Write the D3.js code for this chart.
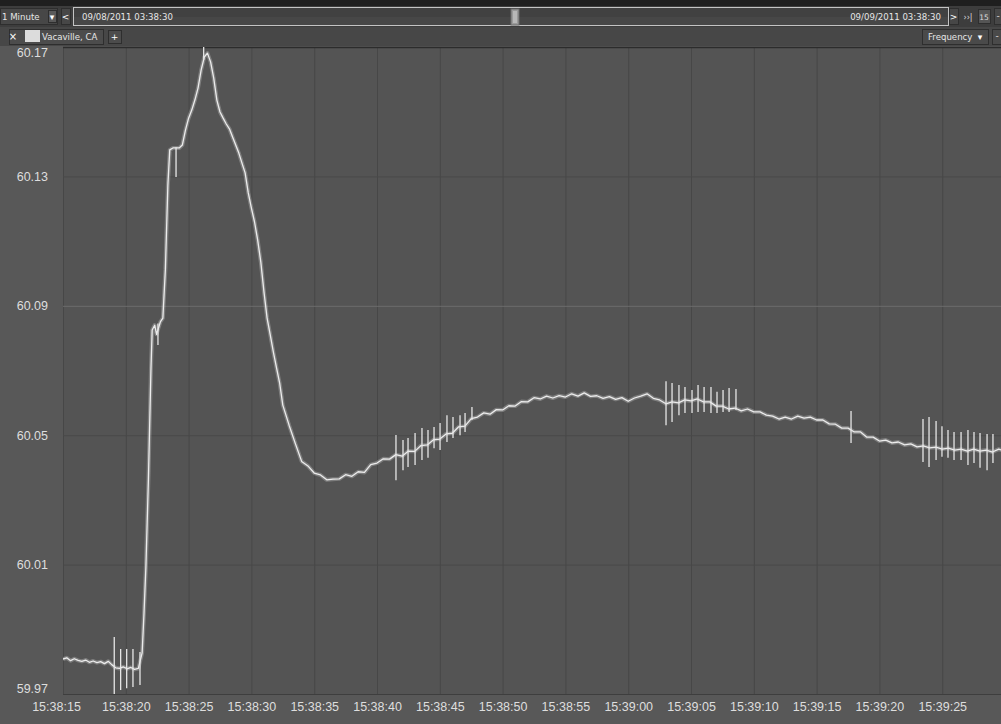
<!DOCTYPE html>
<html>
<head>
<meta charset="utf-8">
<script src="https://cdn.jsdelivr.net/npm/d3@7"></script>
<style>
  html, body { margin: 0; padding: 0; background: #575757; overflow: hidden; }
  svg { display: block; }
</style>
</head>
<body>
<svg id="chart" width="1001" height="724"></svg>
<script>
// Frequency trace, seconds after 15:38:15 and Hz
const traceSeconds = [
  0.0, 0.3, 0.6, 0.9, 1.2, 1.5, 1.8, 2.1, 2.4, 2.7, 3.0, 3.3, 3.6, 3.9, 4.2, 4.5, 4.8, 5.1, 5.4, 5.7, 6.0,
  6.3, 6.45, 6.6, 6.8, 7.0, 7.1, 7.3, 7.45, 7.75, 7.95, 8.15, 8.35, 8.5, 8.75, 9.25, 9.5, 9.75,
  10.0, 10.25, 10.5, 10.75, 11.0, 11.25, 11.5, 11.75, 12.0, 12.25, 12.5, 12.75, 13.0, 13.25, 13.5, 13.75,
  14.0, 14.25, 14.5, 14.75, 15.0, 15.25, 15.5, 15.75, 16.0, 16.25, 16.5, 16.75, 17.0, 17.25, 17.5, 17.75,
  18.0, 18.5, 19.0, 19.5, 20.0, 20.5, 21.0, 21.5, 22.0, 22.5, 23.0, 23.5, 24.0, 24.5, 25.0, 25.5,
  26.0, 26.5, 27.0, 27.5, 28.0, 28.5, 29.0, 29.5, 30.0, 30.5, 31.0, 31.5, 32.0, 32.5, 33.0, 33.5,
  34.0, 34.5, 35.0, 35.5, 36.0, 36.5, 37.0, 37.5, 38.0, 38.5, 39.0, 39.5, 40.0, 40.5, 41.0, 41.5,
  42.0, 42.5, 43.0, 43.5, 44.0, 44.5, 45.0, 45.5, 46.0, 46.5, 47.0, 47.5, 48.0, 48.5, 49.0, 49.5,
  50.0, 50.5, 51.0, 51.5, 52.0, 52.5, 53.0, 53.5, 54.0, 54.5, 55.0, 55.5, 56.0, 56.5, 57.0, 57.5,
  58.0, 58.5, 59.0, 59.5, 60.0, 60.5, 61.0, 61.5, 62.0, 62.5, 63.0, 63.5, 64.0, 64.5, 65.0, 65.5,
  66.0, 66.5, 67.0, 67.5, 68.0, 68.5, 69.0, 69.5, 70.0, 70.5, 71.0, 71.5, 72.0, 72.5, 73.0, 73.5,
  74.0, 74.5, 75.0
];
const traceHz = [
  59.9808, 59.9812, 59.9803, 59.9809, 59.9804, 59.9801, 59.9805, 59.9798, 59.9802, 59.9797, 59.9800, 59.9794, 59.9801, 59.9790, 59.9781, 59.9779, 59.9784, 59.9778, 59.9782, 59.9776, 59.9779,
  59.9827, 59.9950, 60.0093, 60.0362, 60.0700, 60.0825, 60.0840, 60.0812, 60.0850, 60.0862, 60.1011, 60.1273, 60.1382, 60.1388, 60.1388, 60.1397, 60.1443,
  60.1480, 60.1505, 60.1536, 60.1573, 60.1629, 60.1669, 60.1681, 60.1654, 60.1604, 60.1536, 60.1499, 60.1480, 60.1462, 60.1447, 60.1422, 60.1397,
  60.1372, 60.1341, 60.1311, 60.1249, 60.1202, 60.1159, 60.1103, 60.1035, 60.0943, 60.0862, 60.0810, 60.0757, 60.0708, 60.0661, 60.0593, 60.0562,
  60.0531, 60.0474, 60.0419, 60.0405, 60.0383, 60.0377, 60.0362, 60.0364, 60.0365, 60.0378, 60.0373, 60.0387, 60.0385, 60.0409, 60.0414, 60.0427,
  60.0426, 60.0440, 60.0435, 60.0451, 60.0450, 60.0468, 60.0470, 60.0486, 60.0488, 60.0504, 60.0506, 60.0526, 60.0528, 60.0551, 60.0556, 60.0569,
  60.0565, 60.0579, 60.0578, 60.0591, 60.0590, 60.0604, 60.0603, 60.0616, 60.0612, 60.0621, 60.0615, 60.0622, 60.0618, 60.0628, 60.0621, 60.0631,
  60.0620, 60.0622, 60.0614, 60.0619, 60.0611, 60.0616, 60.0605, 60.0615, 60.0621, 60.0628, 60.0614, 60.0609, 60.0597, 60.0603, 60.0600, 60.0609,
  60.0606, 60.0612, 60.0603, 60.0603, 60.0590, 60.0590, 60.0581, 60.0584, 60.0575, 60.0581, 60.0572, 60.0572, 60.0562, 60.0559, 60.0550, 60.0556,
  60.0550, 60.0559, 60.0553, 60.0556, 60.0547, 60.0547, 60.0535, 60.0534, 60.0522, 60.0522, 60.0510, 60.0510, 60.0494, 60.0494, 60.0482, 60.0485,
  60.0476, 60.0479, 60.0470, 60.0473, 60.0464, 60.0467, 60.0461, 60.0463, 60.0457, 60.0460, 60.0454, 60.0457, 60.0451, 60.0457, 60.0451, 60.0454,
  60.0448, 60.0457, 60.0451
];

// Short measurement spikes: time, top and bottom of each excursion
const spikeSeconds = [
  4.08, 4.59, 5.07, 5.57, 6.13, 7.56, 9.00, 11.2,
  26.51, 27.07, 27.47, 28.03, 28.58, 29.06, 29.54, 30.02, 30.57, 31.05, 31.61, 32.01, 32.56,
  48.01, 48.49, 49.04, 49.52, 50.08, 50.56, 51.04, 51.59, 52.07, 52.55, 53.03, 53.58,
  62.74,
  68.47, 68.95, 69.51, 69.98, 70.46, 70.94, 71.50, 72.05, 72.53, 73.01, 73.57, 74.04
];
const spikeHigh = [
  59.9876, 59.9839, 59.9839, 59.9839, 59.9830, 60.0845, 60.1390, 60.1700,
  60.0501, 60.0485, 60.0491, 60.0507, 60.0522, 60.0516, 60.0525, 60.0538, 60.0562, 60.0556, 60.0562, 60.0569, 60.0587,
  60.0667, 60.0661, 60.0655, 60.0649, 60.0640, 60.0655, 60.0649, 60.0649, 60.0634, 60.0640, 60.0646, 60.0643,
  60.0575,
  60.0550, 60.0556, 60.0544, 60.0528, 60.0516, 60.0510, 60.0510, 60.0516, 60.0510, 60.0507, 60.0504, 60.0504
];
const spikeLow = [
  59.9700, 59.9712, 59.9718, 59.9722, 59.9728, 60.0779, 60.1298, 60.1660,
  60.0361, 60.0392, 60.0402, 60.0408, 60.0423, 60.0430, 60.0460, 60.0454, 60.0479, 60.0491, 60.0500, 60.0510, 60.0547,
  60.0531, 60.0541, 60.0562, 60.0569, 60.0569, 60.0572, 60.0572, 60.0569, 60.0569, 60.0572, 60.0572, 60.0578,
  60.0476,
  60.0417, 60.0402, 60.0423, 60.0433, 60.0430, 60.0423, 60.0423, 60.0408, 60.0414, 60.0399, 60.0392, 60.0414
];

const yTickValues = [59.97, 60.01, 60.05, 60.09, 60.13, 60.17];
const startTime = new Date(2011, 8, 8, 15, 38, 15);
const windowSeconds = 74.68;
const rangeStartLabel = "09/08/2011 03:38:30";
const rangeEndLabel = "09/09/2011 03:38:30";
const seriesName = "Vacaville, CA";
const measureName = "Frequency";
const intervalName = "1 Minute";

// ---- layout ----
const W = 1001, H = 724;
const plot = { left: 63, right: 1001, top: 47, bottom: 694 };
const svg = d3.select("#chart");
const uiFont = "'DejaVu Sans', Verdana, sans-serif";
const axisFont = "'Liberation Sans', Arial, sans-serif";

const atSec = s => new Date(startTime.getTime() + s * 1000);
const x = d3.scaleTime().domain([startTime, atSec(windowSeconds)]).range([plot.left, plot.right]);
const y = d3.scaleLinear().domain([59.97, 60.17]).range([plot.bottom, plot.top]);

// page background
svg.append("rect").attr("width", W).attr("height", H).attr("fill", "#585858");

// ---- toolbar ----
const bar = svg.append("g");
bar.append("rect").attr("x", 0).attr("y", 0).attr("width", W).attr("height", 6).attr("fill", "#1f1f1f");
bar.append("rect").attr("x", 0).attr("y", 6).attr("width", W).attr("height", 21).attr("fill", "#3d3d3d");
bar.append("rect").attr("x", 0).attr("y", 27).attr("width", W).attr("height", 19).attr("fill", "#474747");

function button(x0, y0, w, h, fill) {
  bar.append("rect").attr("x", x0 + 0.5).attr("y", y0 + 0.5).attr("width", w).attr("height", h)
    .attr("fill", fill || "#444").attr("stroke", "#2e2e2e");
}
function label(txt, x0, y0, size, anchor, color) {
  bar.append("text").attr("x", x0).attr("y", y0).text(txt)
    .attr("font-family", uiFont).attr("font-size", size).attr("fill", color || "#e6e6e6")
    .attr("text-anchor", anchor || "start");
}

// interval selector
button(0, 8, 57, 16, "#474747");
label(intervalName, 2, 20, 8.6);
button(48, 10, 8, 12, "#5a5a5a");
label("▾", 52, 19.5, 9, "middle", "#fff");
button(61, 8, 9, 16, "#474747");
label("<", 65.5, 20, 9, "middle", "#fff");

// date range strip with slider
bar.append("rect").attr("x", 73.5).attr("y", 7.5).attr("width", 875).attr("height", 18)
  .attr("fill", "#414141").attr("stroke", "#c4c4c4");
bar.append("rect").attr("x", 74).attr("y", 17).attr("width", 874).attr("height", 8).attr("fill", "#474747");
bar.append("rect").attr("x", 511).attr("y", 9).attr("width", 8).attr("height", 16).attr("fill", "#9a9a9a").attr("stroke", "#6a6a6a");
bar.append("rect").attr("x", 513).attr("y", 11).attr("width", 4).attr("height", 12).attr("fill", "#b8b8b8");
label(rangeStartLabel, 82, 20, 8.6);
label(rangeEndLabel, 941, 20, 8.6, "end");

// right-hand navigation buttons
button(949, 8, 9, 16, "#474747");
label(">", 953.5, 20, 9, "middle", "#fff");
label("››|", 968, 19.5, 8, "middle", "#ddd");
button(978, 9, 12, 14, "#555");
label("15", 984, 20, 7.5, "middle", "#ddd");
button(994, 8, 9, 16, "#474747");
label("-", 998, 19, 9, "middle", "#ddd");

// series tab row
button(9, 29, 94, 15, "#4c4c4c");
label("×", 13, 40, 10, "middle", "#fff");
bar.append("rect").attr("x", 25).attr("y", 30).attr("width", 15).attr("height", 12).attr("fill", "#dcdcdc");
label(seriesName, 42, 40, 8.6);
button(108, 30, 13, 13, "#4c4c4c");
label("+", 114.5, 40, 9, "middle", "#fff");
button(922, 29, 66, 15, "#4a4a4a");
label(measureName, 928, 40, 8.6);
label("▾", 980, 40, 9, "middle", "#fff");
button(992, 29, 12, 15, "#4a4a4a");
label("-", 997, 39, 9, "middle", "#ddd");

// ---- plot area ----
const defs = svg.append("defs");
defs.append("clipPath").attr("id", "plotClip").append("rect")
  .attr("x", plot.left).attr("y", plot.top).attr("width", plot.right - plot.left).attr("height", plot.bottom - plot.top);

svg.append("rect").attr("x", plot.left).attr("y", plot.top)
  .attr("width", plot.right - plot.left).attr("height", plot.bottom - plot.top).attr("fill", "#545454");

// vertical gridlines every 5 s
const xTicks = x.ticks(d3.timeSecond.every(5));
svg.append("g").attr("transform", `translate(0,${plot.bottom})`)
  .call(d3.axisBottom(x).tickValues(xTicks).tickSize(-(plot.bottom - plot.top)).tickFormat(""))
  .call(g => g.select(".domain").remove())
  .call(g => g.selectAll("line").attr("stroke", "#474747"));

// horizontal gridlines
svg.append("g").attr("transform", `translate(${plot.left},0)`)
  .call(d3.axisLeft(y).tickValues(yTickValues).tickSize(-(plot.right - plot.left)).tickFormat(""))
  .call(g => g.select(".domain").remove())
  .call(g => g.selectAll("line")
    .attr("stroke", d => Math.abs(d - 60.09) < 1e-6 ? "#6c6c6c" : "#494949"));

// frame lines
svg.append("line").attr("x1", plot.left).attr("x2", plot.right).attr("y1", plot.top + 0.5).attr("y2", plot.top + 0.5)
  .attr("stroke", "#2c2c2c").attr("stroke-width", 1.5);
svg.append("line").attr("x1", plot.left).attr("x2", plot.right).attr("y1", plot.bottom + 0.5).attr("y2", plot.bottom + 0.5)
  .attr("stroke", "#3e3e3e");

// y labels
svg.append("g").attr("transform", `translate(48,0)`)
  .call(d3.axisLeft(y).tickValues(yTickValues).tickSize(0).tickPadding(0).tickFormat(d3.format(".2f")))
  .call(g => g.select(".domain").remove())
  .call(g => g.selectAll("text")
    .attr("font-family", axisFont).attr("font-size", 12.5).attr("fill", "#dedede")
    .attr("dy", d => d === 59.97 ? "-0.1em" : "0.32em")
    .attr("transform", d => d === 60.17 ? "translate(0,5)" : null));

// x labels
svg.append("g").attr("transform", `translate(0,${plot.bottom})`)
  .call(d3.axisBottom(x).tickValues(xTicks).tickSize(0).tickPadding(8).tickFormat(d3.timeFormat("%H:%M:%S")))
  .call(g => g.select(".domain").remove())
  .call(g => g.selectAll("text")
    .attr("font-family", axisFont).attr("font-size", 12.5).attr("fill", "#dedede")
    .attr("transform", (d, i) => i === 0 ? "translate(-7,0)" : null));

// ---- frequency line ----
const points = traceSeconds.map((s, i) => ({ s, v: traceHz[i] }));
const spikes = spikeSeconds.map((s, i) => ({ s, hi: spikeHigh[i], lo: spikeLow[i] }));

const line = d3.line().x(d => x(atSec(d.s))).y(d => y(d.v));
const traceLayer = svg.append("g").attr("clip-path", "url(#plotClip)");
// soft halo gives the trace its fuzzy measurement-noise width
traceLayer.append("path").datum(points).attr("d", line)
  .attr("fill", "none").attr("stroke", "rgba(235,235,235,0.28)").attr("stroke-width", 4)
  .attr("stroke-linejoin", "round");
traceLayer.append("path").datum(points).attr("d", line)
  .attr("fill", "none").attr("stroke", "#ececec").attr("stroke-width", 1.3)
  .attr("stroke-linejoin", "round");

// vertical excursions drawn at their sample instants
traceLayer.selectAll("line.spike").data(spikes).join("line").attr("class", "spike")
  .attr("x1", d => x(atSec(d.s))).attr("x2", d => x(atSec(d.s)))
  .attr("y1", d => y(d.hi)).attr("y2", d => y(d.lo))
  .attr("stroke", "#e6e6e6").attr("stroke-width", 1.3);
</script>
</body>
</html>
